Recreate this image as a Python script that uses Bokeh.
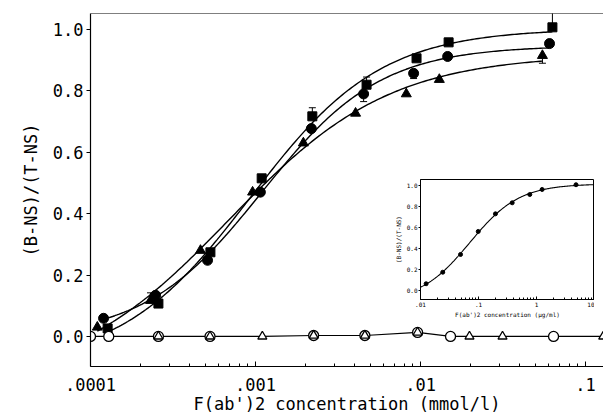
import numpy as np
from bokeh.plotting import figure
from bokeh.models import (FixedTicker, CustomJSTickFormatter, Span, Whisker,
                          ColumnDataSource, TeeHead, Range1d, PrintfTickFormatter)
from bokeh.layouts import column
from bokeh.embed import file_html
from bokeh.resources import INLINE

# ---------------- data (main panel, concentration in mmol/l) ----------------
sq_x = [1.27e-4, 2.58e-4, 5.33e-4, 1.09e-3, 2.21e-3, 4.71e-3, 9.46e-3, 0.0148, 0.063]
sq_y = [0.026, 0.107, 0.274, 0.515, 0.717, 0.820, 0.906, 0.958, 1.007]

ci_x = [1.20e-4, 2.48e-4, 5.12e-4, 1.07e-3, 2.18e-3, 4.52e-3, 9.08e-3, 0.0146, 0.0605]
ci_y = [0.059, 0.134, 0.248, 0.470, 0.677, 0.790, 0.857, 0.912, 0.954]

tr_x = [1.10e-4, 2.31e-4, 4.64e-4, 9.6e-4, 1.95e-3, 4.04e-3, 8.2e-3, 0.0130, 0.0548]
tr_y = [0.030, 0.117, 0.280, 0.470, 0.630, 0.727, 0.790, 0.837, 0.915]

oc_x = [1.0e-4, 1.29e-4, 2.58e-4, 5.3e-4, 2.25e-3, 4.6e-3, 9.6e-3, 0.0152, 0.064]
oc_y = [0.0, 0.0, 0.0, 0.0, 0.003, 0.003, 0.013, 0.0, 0.0]

ot_x = [2.58e-4, 5.3e-4, 1.1e-3, 2.25e-3, 4.6e-3, 9.6e-3, 0.0198, 0.0314, 0.128]
ot_y = [0.0, 0.0, 0.0, 0.003, 0.003, 0.013, 0.0, 0.0, 0.0]

# error bars (x, lower, upper)
err_x = [2.21e-3, 4.71e-3, 0.063, 2.31e-4, 4.52e-3, 9.08e-3, 0.0548]
err_lo = [0.717, 0.820, 1.007, 0.117, 0.765, 0.840, 0.890]
err_hi = [0.745, 0.845, 1.060, 0.142, 0.790, 0.857, 0.915]

x_major = [1e-4, 1e-3, 1e-2, 1e-1]
y_major = [0.0, 0.2, 0.4, 0.6, 0.8, 1.0]

# ---------------- data (inset, concentration in ug/ml) ----------------
in_x = [0.0125, 0.0242, 0.049, 0.099, 0.196, 0.381, 0.766, 1.25, 4.8]
in_y = [0.064, 0.174, 0.343, 0.562, 0.730, 0.835, 0.914, 0.962, 1.007]
in_x_major = [0.01, 0.1, 1, 10]

FONT = "DejaVu Sans Mono"


def hill_fit(x, y, lc_grid, h_grid):
    lx = np.log10(np.asarray(x, float))
    y = np.asarray(y, float)
    LC, H = np.meshgrid(lc_grid, h_grid, indexing="ij")
    F = 1.0 / (1.0 + 10.0 ** ((LC[..., None] - lx) * H[..., None]))
    fm = F.mean(-1)
    ym = y.mean()
    cov = ((F - fm[..., None]) * (y - ym)).sum(-1)
    var = ((F - fm[..., None]) ** 2).sum(-1)
    a = cov / var
    b = ym - a * fm
    res = ((b[..., None] + a[..., None] * F - y) ** 2).sum(-1)
    i = np.unravel_index(np.argmin(res), res.shape)
    return LC[i], H[i], a[i], b[i]


def hill_curve(params, x0, x1, n=200):
    lc, h, a, b = params
    xs = np.logspace(np.log10(x0), np.log10(x1), n)
    ys = b + a / (1.0 + 10.0 ** ((lc - np.log10(xs)) * h))
    return xs, ys


# ---------------- main figure ----------------
p = figure(width=603, height=417, x_axis_type="log",
           x_range=Range1d(1e-4, 0.1285), y_range=Range1d(-0.098, 1.052),
           output_backend="svg", toolbar_location=None,
           min_border_left=90, min_border_right=0, min_border_top=13,
           min_border_bottom=51)
p.grid.visible = False
p.outline_line_color = None
p.background_fill_color = "white"
p.add_layout(Span(location=1.052, dimension="width", line_color="black", line_width=1.2))

lc_grid = np.linspace(-4.0, -1.5, 251)
h_grid = np.linspace(0.4, 2.5, 211)
for xs_, ys_ in ((sq_x, sq_y), (ci_x, ci_y), (tr_x, tr_y)):
    cx, cy = hill_curve(hill_fit(xs_, ys_, lc_grid, h_grid), xs_[0], xs_[-1])
    p.line(cx, cy, line_color="black", line_width=1.4)

# near-zero control series
all_open = sorted(zip(oc_x + ot_x, oc_y + ot_y))
p.line([a for a, _ in all_open], [b for _, b in all_open], line_color="black", line_width=1.2)

src_err = ColumnDataSource(dict(x=err_x, lo=err_lo, hi=err_hi))
p.add_layout(Whisker(source=src_err, base="x", lower="lo", upper="hi", dimension="height",
                     line_color="black", line_width=1,
                     upper_head=TeeHead(size=7, line_color="black"),
                     lower_head=TeeHead(size=7, line_color="black")))

p.scatter(sq_x, sq_y, marker="square", size=9, color="black")
p.scatter(ci_x, ci_y, marker="circle", size=10, color="black")
p.scatter(tr_x, tr_y, marker="triangle", size=10, color="black")
p.scatter(oc_x, oc_y, marker="circle", size=10, fill_color="white", line_color="black", line_width=1.3)
p.scatter(ot_x, ot_y, marker="triangle", size=9, fill_color="white", line_color="black", line_width=1.3)

xa = p.xaxis[0]
xa.ticker = FixedTicker(ticks=x_major,
                        minor_ticks=[k * m for m in x_major for k in range(2, 10)])
xa.formatter = CustomJSTickFormatter(
    code="const e = Math.round(Math.log10(tick)); return '.' + '0'.repeat(-e - 1) + '1';")
xa.axis_label = "F(ab')2 concentration (mmol/l)"
xa.major_tick_in = 5
xa.major_tick_out = 0
xa.minor_tick_in = 3
xa.minor_tick_out = 0
xa.major_label_standoff = 11
xa.axis_label_standoff = 0

ya = p.yaxis[0]
ya.ticker = FixedTicker(ticks=y_major)
ya.formatter = PrintfTickFormatter(format="%.1f")
ya.axis_label = "(B-NS)/(T-NS)"
ya.major_tick_in = 0
ya.major_tick_out = 4
ya.minor_tick_in = 0
ya.minor_tick_out = 0
ya.major_label_standoff = 3
ya.axis_label_standoff = 9

for ax in (xa, ya):
    ax.axis_line_color = "black"
    ax.axis_line_width = 1.2
    ax.major_tick_line_color = "black"
    ax.minor_tick_line_color = "black"
    ax.major_label_text_font = FONT
    ax.major_label_text_font_size = "17px"
    ax.major_label_text_color = "black"
    ax.axis_label_text_font = FONT
    ax.axis_label_text_font_size = "17px"
    ax.axis_label_text_font_style = "normal"
    ax.axis_label_text_color = "black"

# ---------------- inset figure ----------------
# (the column layout aligns the left border of its plots, so the inset keeps the
#  same 90px left border as the main plot and is shifted into place)
q = figure(width=264, height=145, x_axis_type="log",
           x_range=Range1d(0.01, 10), y_range=Range1d(-0.086, 1.057),
           output_backend="svg", toolbar_location=None,
           min_border_left=90, min_border_right=0, min_border_top=4,
           min_border_bottom=21)
q.grid.visible = False
q.outline_line_color = "black"
q.outline_line_width = 1
q.background_fill_color = "white"
q.border_fill_alpha = 0

icx, icy = hill_curve(hill_fit(in_x, in_y, np.linspace(-2.0, 1.0, 301), np.linspace(0.4, 2.5, 211)),
                      0.01, 10)
q.line(icx, icy, line_color="black", line_width=1.1)
q.scatter(in_x, in_y, marker="circle", size=4, color="black")

qx = q.xaxis[0]
qx.ticker = FixedTicker(ticks=in_x_major,
                        minor_ticks=[k * m for m in in_x_major[:-1] for k in range(2, 10)])
qx.formatter = CustomJSTickFormatter(
    code="if (tick >= 1) { return String(Math.round(tick)); } const e = Math.round(Math.log10(tick)); return '.' + '0'.repeat(-e - 1) + '1';")
qx.axis_label = "F(ab')2 concentration (\u03bcg/ml)"
qx.major_tick_in = 3
qx.major_tick_out = 0
qx.minor_tick_in = 2
qx.minor_tick_out = 0
qx.major_label_standoff = 2
qx.axis_label_standoff = 1

qy = q.yaxis[0]
qy.ticker = FixedTicker(ticks=y_major)
qy.formatter = PrintfTickFormatter(format="%.1f")
qy.axis_label = "(B-NS)/(T-NS)"
qy.major_tick_in = 0
qy.major_tick_out = 2
qy.minor_tick_in = 0
qy.minor_tick_out = 0
qy.major_label_standoff = 1
qy.axis_label_standoff = 2

for ax in (qx, qy):
    ax.axis_line_color = "black"
    ax.major_tick_line_color = "black"
    ax.minor_tick_line_color = "black"
    ax.major_label_text_font = FONT
    ax.major_label_text_font_size = "6px"
    ax.major_label_text_color = "black"
    ax.axis_label_text_font = FONT
    ax.axis_label_text_font_size = "6px"
    ax.axis_label_text_font_style = "normal"
    ax.axis_label_text_color = "black"

q.styles = {"position": "absolute", "left": "0px", "top": "0px",
            "width": "264px", "height": "145px",
            "transform": "translate(330px, 175px)", "z-index": "2"}

layout = column(p, q)
open("out.html", "w").write(file_html(layout, INLINE))
